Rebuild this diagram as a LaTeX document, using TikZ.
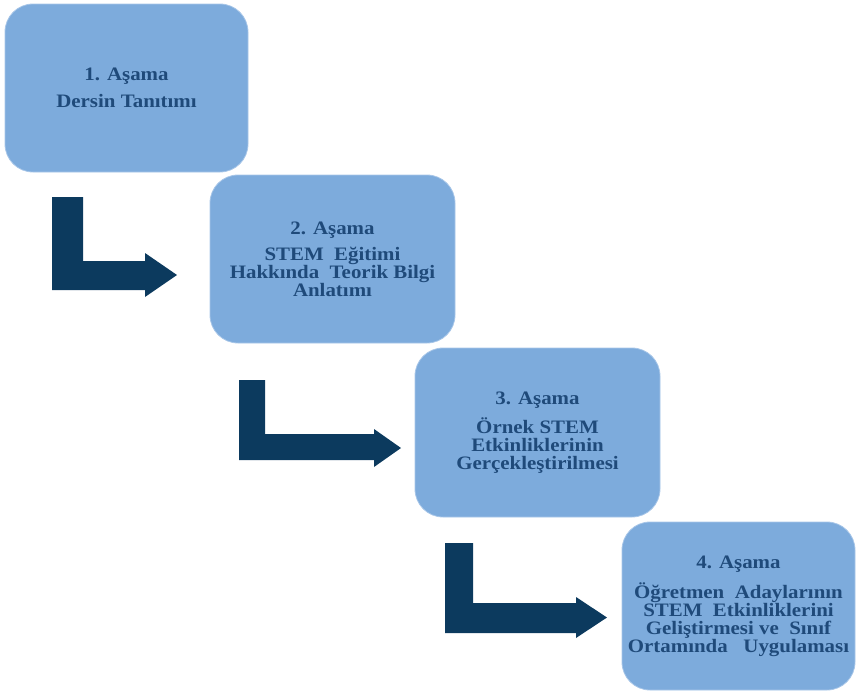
\documentclass[tikz,border=0pt]{standalone}
\usepackage{fontspec}
\setmainfont{Liberation Serif}[FakeStretch=1.1]
\definecolor{boxfill}{HTML}{7DABDC}
\definecolor{boxline}{HTML}{A8C6E8}
\definecolor{boxtext}{HTML}{1F4A7A}
\definecolor{arrowcol}{HTML}{0C3A5E}
\tikzset{
  stagebox/.style={draw=boxline, line width=0.8pt, fill=boxfill, rounded corners=28pt,
    inner sep=0pt, align=center, text=boxtext,
    font=\fontsize{19}{18}\selectfont\bfseries},
  bentarrow/.style={fill=arrowcol, draw=none}
}
\begin{document}
\begin{tikzpicture}[x=1pt,y=-1pt]
\useasboundingbox (0,0) rectangle (857,691);
\node[stagebox, minimum width=243pt, minimum height=168pt] (s1) at (126.5,88)
  {1. Aşama\\[9pt]Dersin Tanıtımı};
\node[stagebox, minimum width=245pt, minimum height=168pt] (s2) at (332.5,259)
  {2. Aşama\\[8pt]STEM\ \ Eğitimi\\Hakkında\ \ Teorik Bilgi\\Anlatımı};
\node[stagebox, minimum width=245pt, minimum height=169pt] (s3) at (537.5,432.5)
  {3. Aşama\\[8pt]Örnek STEM\\Etkinliklerinin\\Gerçekleştirilmesi};
\node[stagebox, minimum width=233pt, minimum height=168pt] (s4) at (738.5,606)
  {4. Aşama\\[9pt]Öğretmen\ \ Adaylarının\\STEM\ \ Etkinliklerini\\Geliştirmesi ve\ \ Sınıf\\Ortamında\ \ \ Uygulaması};
% bent arrows
\fill[bentarrow] (52,197) -- (83,197) -- (83,261) -- (145,261) -- (145,253) -- (177,275)
  -- (145,297) -- (145,290) -- (52,290) -- cycle;
\fill[bentarrow] (239,380) -- (265,380) -- (265,434) -- (374,434) -- (374,429) -- (401,448)
  -- (374,467) -- (374,460) -- (239,460) -- cycle;
\fill[bentarrow] (445,543) -- (473,543) -- (473,603) -- (576,603) -- (576,597) -- (607,617.5)
  -- (576,638) -- (576,633) -- (445,633) -- cycle;
\end{tikzpicture}
\end{document}
